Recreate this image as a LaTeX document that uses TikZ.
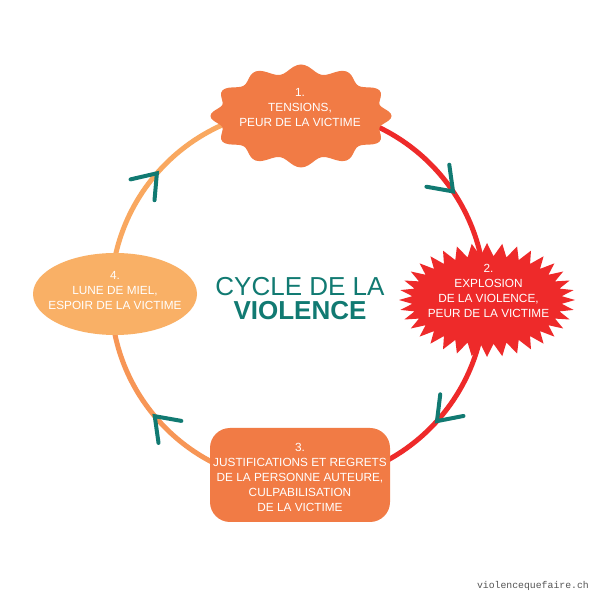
\documentclass[tikz,border=0pt]{standalone}
\usepackage{fontspec}
\setmainfont{Liberation Sans}
\newfontfamily\wmfont{Liberation Mono}
\usetikzlibrary{calc}
\definecolor{cOrange}{RGB}{241,123,69}
\definecolor{cRed}{RGB}{238,42,42}
\definecolor{cLight}{RGB}{249,176,102}
\definecolor{cLightLine}{RGB}{249,168,96}
\definecolor{cMidLine}{RGB}{247,150,86}
\definecolor{cTeal}{RGB}{17,122,114}
\definecolor{cGray}{RGB}{85,85,85}
\tikzset{
  cycleline/.style={line width=5pt},
  chevron/.style={draw=cTeal, line width=4pt, line cap=round, line join=miter},
  phasetext/.style={text=white, align=center, inner sep=0pt,
    font=\fontsize{11.8}{15}\selectfont},
  titletext/.style={text=cTeal, inner sep=0pt, anchor=base,
    font=\fontsize{26}{26}\selectfont},
}
\begin{document}
\begin{tikzpicture}[x=1pt,y=1pt]
\useasboundingbox (0,0) rectangle (600,600);
\fill[white] (0,0) rectangle (600,600);
\coordinate (C) at (298,304);
% cycle arcs
\draw[cycleline, cRed] (C) ++(90:187) arc[start angle=90, end angle=-90, radius=187];
\draw[cycleline, cMidLine] (C) ++(-90:187) arc[start angle=-90, end angle=-180, radius=187];
\draw[cycleline, cLightLine] (C) ++(180:187) arc[start angle=180, end angle=90, radius=187];
% chevrons
\foreach \a/\b in {34/134, -42/47, -140/-46, 139/229}{
  \coordinate (tip) at ($(C)+(\a:187)$);
  \draw[chevron] (tip) ++(\b+36:27) -- (tip) -- ++(\b-36:27);
}
% 1. top wavy node
\fill[cOrange] plot[smooth cycle, samples=144, domain=0:357.5, variable=\t]
  ({301+(86+4.5*cos(12*\t))*cos(\t)},{484+(47+4.5*cos(12*\t))*sin(\t)});
\node[phasetext] (n1) at (300,492) {1.\\TENSIONS,\\PEUR DE LA VICTIME};
% 2. right starburst
\fill[cRed] (487+88,300)
  \foreach \i in {1,...,71}{
    -- ({487+(88-13*mod(\i,2))*cos(\i*5)},{300+(57-13*mod(\i,2))*sin(\i*5)})
  } -- cycle;
\node[phasetext] (n2) at (488.5,309.5) {2.\\EXPLOSION\\DE LA VIOLENCE,\\PEUR DE LA VICTIME};
% 3. bottom rounded rectangle
\fill[cOrange, rounded corners=20pt] (210,78) rectangle (390,172);
\node[phasetext] (n3) at (300,123) {3.\\JUSTIFICATIONS ET REGRETS\\DE LA PERSONNE AUTEURE,\\CULPABILISATION\\DE LA VICTIME};
% 4. left ellipse
\fill[cLight] (115,306) ellipse[x radius=82, y radius=41];
\node[phasetext] (n4) at (115,309) {4.\\LUNE DE MIEL,\\ESPOIR DE LA VICTIME};
% title
\node[titletext] (t1) at (300,304) {CYCLE DE LA};
\node[titletext, font=\fontsize{26}{26}\selectfont\bfseries] (t2) at (300,280) {VIOLENCE};
% watermark
\node[anchor=base east, inner sep=0pt, text=cGray, font=\wmfont\fontsize{9.8}{10}\selectfont] (wm) at (589,12) {violencequefaire.ch};
\end{tikzpicture}
\end{document}
